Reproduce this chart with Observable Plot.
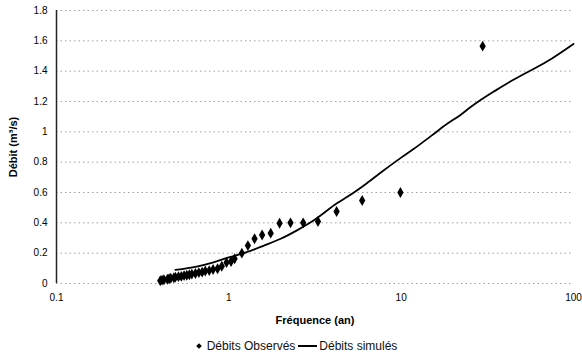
<!DOCTYPE html>
<html>
<head>
<meta charset="utf-8">
<script src="https://cdn.jsdelivr.net/npm/d3@7"></script>
<script src="https://cdn.jsdelivr.net/npm/@observablehq/plot@0.6"></script>
<style>
  html, body { margin: 0; padding: 0; background: #fff; }
  #chart { width: 582px; }
  .legend { width: 582px; height: 26px; display: flex; justify-content: center; align-items: center;
    font-family: "Liberation Sans", Arial, sans-serif; font-size: 12px; color: #111; padding-left: 12px; box-sizing: border-box; }
  .legend .item { display: flex; align-items: center; }
  .legend .dia { display: inline-block; width: 4px; height: 4px; background: #000; transform: rotate(45deg); margin-right: 6px; }
  .legend .ln { display: inline-block; width: 19px; height: 2px; background: #000; margin: 0 2px 0 3px; }
</style>
</head>
<body>
<div id="chart"></div>
<div class="legend">
  <span class="item"><span class="dia"></span>Débits Observés</span>
  <span class="item"><span class="ln"></span>Débits simulés</span>
</div>
<script>
// Observed flows: return period (years) and flow (m3/s)
const obsT = [29.7, 9.9, 5.94, 4.22, 3.29, 2.70, 2.28, 1.97, 1.75, 1.56, 1.41, 1.29, 1.19, 1.08, 1.03, 0.97,
  0.91, 0.86, 0.81, 0.77, 0.73, 0.70, 0.67, 0.64, 0.61, 0.59, 0.57, 0.55, 0.53, 0.51, 0.49, 0.48, 0.46, 0.45, 0.44, 0.42, 0.41, 0.40];
const obsQ = [1.565, 0.60, 0.547, 0.475, 0.409, 0.40, 0.40, 0.397, 0.332, 0.32, 0.295, 0.25, 0.20, 0.163, 0.145, 0.138,
  0.114, 0.097, 0.092, 0.085, 0.082, 0.075, 0.072, 0.066, 0.062, 0.058, 0.054, 0.052, 0.047, 0.045, 0.042, 0.038, 0.035, 0.032, 0.028, 0.025, 0.022, 0.018];

// Simulated flows
const simT = [0.49, 0.65, 0.815, 1.0, 1.28, 1.6, 2.0, 2.5, 3.1, 4.26, 5.0, 6.3, 7.9, 10, 11.85, 15, 18.5, 22, 25.2, 28.9, 35, 45.1, 70.5, 100];
const simQ = [0.090, 0.112, 0.140, 0.172, 0.208, 0.250, 0.295, 0.352, 0.415, 0.53, 0.58, 0.66, 0.745, 0.83, 0.888, 0.975, 1.053, 1.11, 1.162, 1.21, 1.27, 1.345, 1.465, 1.58];

const xTicks = [0.1, 1, 10, 100];
const yTicks = [0, 0.2, 0.4, 0.6, 0.8, 1, 1.2, 1.4, 1.6, 1.8];

const observed = obsT.map((t, i) => ({t, q: obsQ[i]}));
const simulated = simT.map((t, i) => ({t, q: simQ[i]}));

const chart = Plot.plot({
  width: 582,
  height: 333,
  marginLeft: 56,
  marginRight: 9,
  marginTop: 10,
  marginBottom: 50,
  x: {type: "log", domain: [0.1, 100]},
  y: {domain: [0, 1.8]},
  style: {fontFamily: "'Liberation Sans', Arial, sans-serif", fontSize: "10px", color: "#000", background: "#fff"},
  marks: [
    Plot.gridY(yTicks, {stroke: "#555", strokeOpacity: 0.55, strokeDasharray: "1.5,3"}),
    Plot.ruleX([0.1], {stroke: "#222", strokeWidth: 1.5}),
    Plot.axisY(yTicks, {tickSize: 0, tickPadding: 9, label: null, tickFormat: d => String(d)}),
    Plot.axisX(xTicks, {tickSize: 0, tickPadding: 10, label: null, tickFormat: d => String(d)}),
    Plot.line(simulated, {x: "t", y: "q", stroke: "#000", strokeWidth: 1.8, curve: "monotone-x"}),
    Plot.dot(observed, {x: "t", y: "q", symbol: "diamond", r: 3.3, fill: "#000", stroke: "none"}),
    Plot.text(["Fréquence (an)"], {text: d => d, frameAnchor: "bottom", lineAnchor: "middle", dy: 37, fontWeight: "bold", fontSize: 11}),
    Plot.text(["Débit (m³/s)"], {text: d => d, frameAnchor: "left", textAnchor: "middle", lineAnchor: "middle", dx: -43, rotate: -90, fontWeight: "bold", fontSize: 11})
  ]
});
document.getElementById("chart").appendChild(chart);
</script>
</body>
</html>
